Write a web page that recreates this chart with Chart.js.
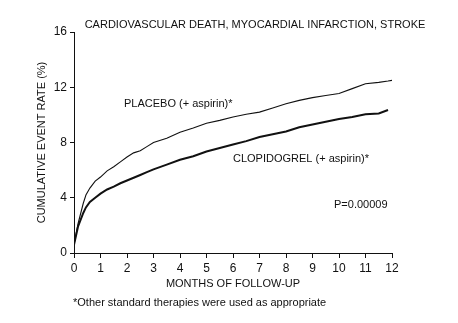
<!DOCTYPE html>
<html>
<head>
<meta charset="utf-8">
<script src="https://cdn.jsdelivr.net/npm/chart.js@4/dist/chart.umd.min.js"></script>
<style>
  html, body { margin: 0; padding: 0; background: #fff; }
  #wrap { width: 458px; height: 323px; position: relative; }
</style>
</head>
<body>
<div id="wrap"><canvas id="c" width="458" height="323"></canvas></div>
<script>
const months = [0, 0.15, 0.35, 0.45, 0.6, 0.8, 1.0, 1.25, 1.5, 1.75, 2.0, 2.25, 2.5, 2.75, 3.0, 3.5, 4.0, 4.5, 5.0, 5.5, 6.0, 6.5, 7.0, 7.5, 8.0, 8.5, 9.0, 9.5, 10.0, 10.5, 11.0, 11.5, 11.85, 12.0];
const placebo = [0.6, 2.1, 3.6, 4.2, 4.7, 5.2, 5.5, 5.95, 6.25, 6.6, 6.95, 7.25, 7.4, 7.7, 8.0, 8.3, 8.75, 9.05, 9.4, 9.6, 9.85, 10.05, 10.2, 10.5, 10.8, 11.05, 11.25, 11.4, 11.55, 11.9, 12.25, 12.35, 12.45, 12.5];
const clopidogrel = [0.6, 1.9, 2.9, 3.3, 3.7, 4.0, 4.3, 4.6, 4.8, 5.05, 5.25, 5.45, 5.65, 5.85, 6.05, 6.4, 6.75, 7.0, 7.35, 7.6, 7.85, 8.1, 8.4, 8.6, 8.8, 9.1, 9.3, 9.5, 9.7, 9.85, 10.05, 10.1, 10.35, null];
const yTicks = [0, 4, 8, 12, 16];
const xTicks = [0, 1, 2, 3, 4, 5, 6, 7, 8, 9, 10, 11, 12];

const titleText = 'CARDIOVASCULAR DEATH, MYOCARDIAL INFARCTION, STROKE';
const yTitle = 'CUMULATIVE EVENT RATE (%)';
const xTitle = 'MONTHS OF FOLLOW-UP';
const footnote = '*Other standard therapies were used as appropriate';
const labelPlacebo = 'PLACEBO (+ aspirin)*';
const labelClop = 'CLOPIDOGREL (+ aspirin)*';
const pValue = 'P=0.00009';

const FONT = '"Liberation Sans", Arial, Helvetica, sans-serif';

const toXY = (ys) => months.map((m, i) => ({x: m, y: ys[i]})).filter(p => p.y !== null);

const textPlugin = {
  id: 'texts',
  afterDraw(chart) {
    const ctx = chart.ctx;
    const ca = chart.chartArea;
    const xs = chart.scales.x, ys = chart.scales.y;
    ctx.save();
    ctx.fillStyle = '#111';
    ctx.font = '11px ' + FONT;
    ctx.textBaseline = 'middle';
    ctx.textAlign = 'center';
    ctx.fillText(titleText, 255, 25);
    ctx.fillText(xTitle, (ca.left + ca.right) / 2, 284);
    ctx.textAlign = 'left';
    ctx.fillText(footnote, 73, 303);
    ctx.fillText(labelPlacebo, 124, 104);
    ctx.fillText(labelClop, 233, 159);
    ctx.fillText(pValue, 334, 205);
    ctx.translate(42, (ca.top + ca.bottom) / 2);
    ctx.rotate(-Math.PI / 2);
    ctx.textAlign = 'center';
    ctx.fillText(yTitle, 0, 0);
    ctx.restore();
  }
};

new Chart(document.getElementById('c'), {
  type: 'line',
  data: {
    datasets: [
      { label: 'Placebo', data: toXY(placebo), borderColor: '#111', borderWidth: 1.1, pointRadius: 0, tension: 0, fill: false },
      { label: 'Clopidogrel', data: toXY(clopidogrel), borderColor: '#111', borderWidth: 2, pointRadius: 0, tension: 0, fill: false }
    ]
  },
  options: {
    responsive: false,
    animation: false,
    layout: { padding: { left: 0, top: 32, right: 66, bottom: 0 } },
    plugins: { legend: { display: false }, tooltip: { enabled: false }, title: { display: false } },
    scales: {
      x: {
        type: 'linear', min: 0, max: 12,
        afterFit(s) { s.height = 70; },
        afterBuildTicks(s) { s.ticks = xTicks.map(v => ({value: v})); },
        grid: { display: true, drawOnChartArea: false, drawTicks: true, tickLength: 5, color: '#111', lineWidth: 1 },
        border: { display: true, color: '#111', width: 1 },
        ticks: { color: '#111', font: { family: FONT, size: 12 }, padding: 3, maxRotation: 0, autoSkip: false }
      },
      y: {
        type: 'linear', min: 0, max: 16,
        afterFit(s) { s.width = 74; },
        afterBuildTicks(s) { s.ticks = yTicks.map(v => ({value: v})); },
        grid: { display: true, drawOnChartArea: false, drawTicks: true, tickLength: 4, color: '#111', lineWidth: 1 },
        border: { display: true, color: '#111', width: 1 },
        ticks: { color: '#111', font: { family: FONT, size: 12 }, padding: 3 }
      }
    }
  },
  plugins: [textPlugin]
});
</script>
</body>
</html>
